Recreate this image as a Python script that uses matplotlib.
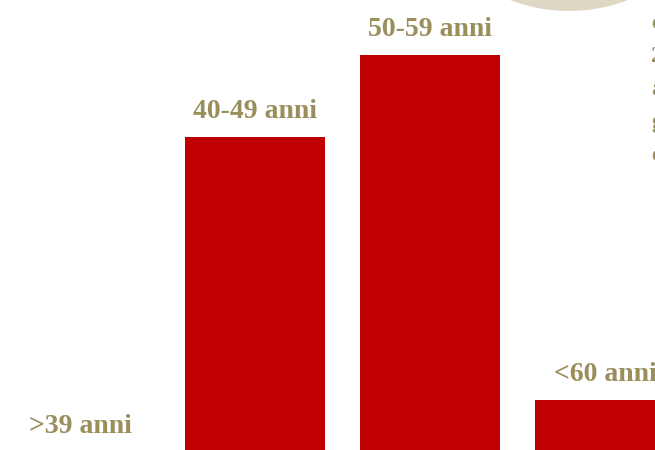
import matplotlib
matplotlib.use("Agg")
import matplotlib.pyplot as plt
from matplotlib.patches import Ellipse

# Age groups and their shares
categories = [">39 anni", "40-49 anni", "50-59 anni", "<60 anni"]
values = [0.0, 31.3, 39.5, 5.0]

# Fragments of the side note at the right edge
side_lines = ["c", "2", "a", "g", "c"]

BAR_COLOR = "#c00000"
TEXT_COLOR = "#9a8f5b"
CIRCLE_COLOR = "#ddd8c3"
FONT = ["Liberation Serif", "DejaVu Serif"]

fig = plt.figure(figsize=(6.55, 4.5), dpi=100)
fig.patch.set_facecolor("white")

# Decorative circle peeking in at the top
circle = Ellipse((569 / 655, 603 / 450), 328 / 655, 328 / 450,
                 transform=fig.transFigure, facecolor=CIRCLE_COLOR,
                 edgecolor="none", zorder=0)
fig.patches.append(circle)

ax = fig.add_axes([0, 0, 1, 1])
ax.set_facecolor("none")
x = list(range(len(categories)))
ax.bar(x, values, width=0.8, color=BAR_COLOR, zorder=2)
ax.set_xlim(-80 / 175, (655 - 80) / 175)
ax.set_ylim(0, 45)
ax.axis("off")

for xi, v, label in zip(x, values, categories):
    ax.annotate(label, (xi, v), xytext=(0, 14 if v > 0 else 12),
                textcoords="offset points", ha="center", va="baseline",
                fontsize=20, fontweight="bold", color=TEXT_COLOR,
                family=FONT, zorder=3)

# Side note text, mostly cut off by the right edge
for i, line in enumerate(side_lines):
    fig.text(651 / 655, 1 - (29 + 33 * i) / 450, line, ha="left",
             va="baseline", fontsize=17, fontweight="bold",
             color=TEXT_COLOR, family=FONT)

fig.savefig("out.png", dpi=100, facecolor="white")
